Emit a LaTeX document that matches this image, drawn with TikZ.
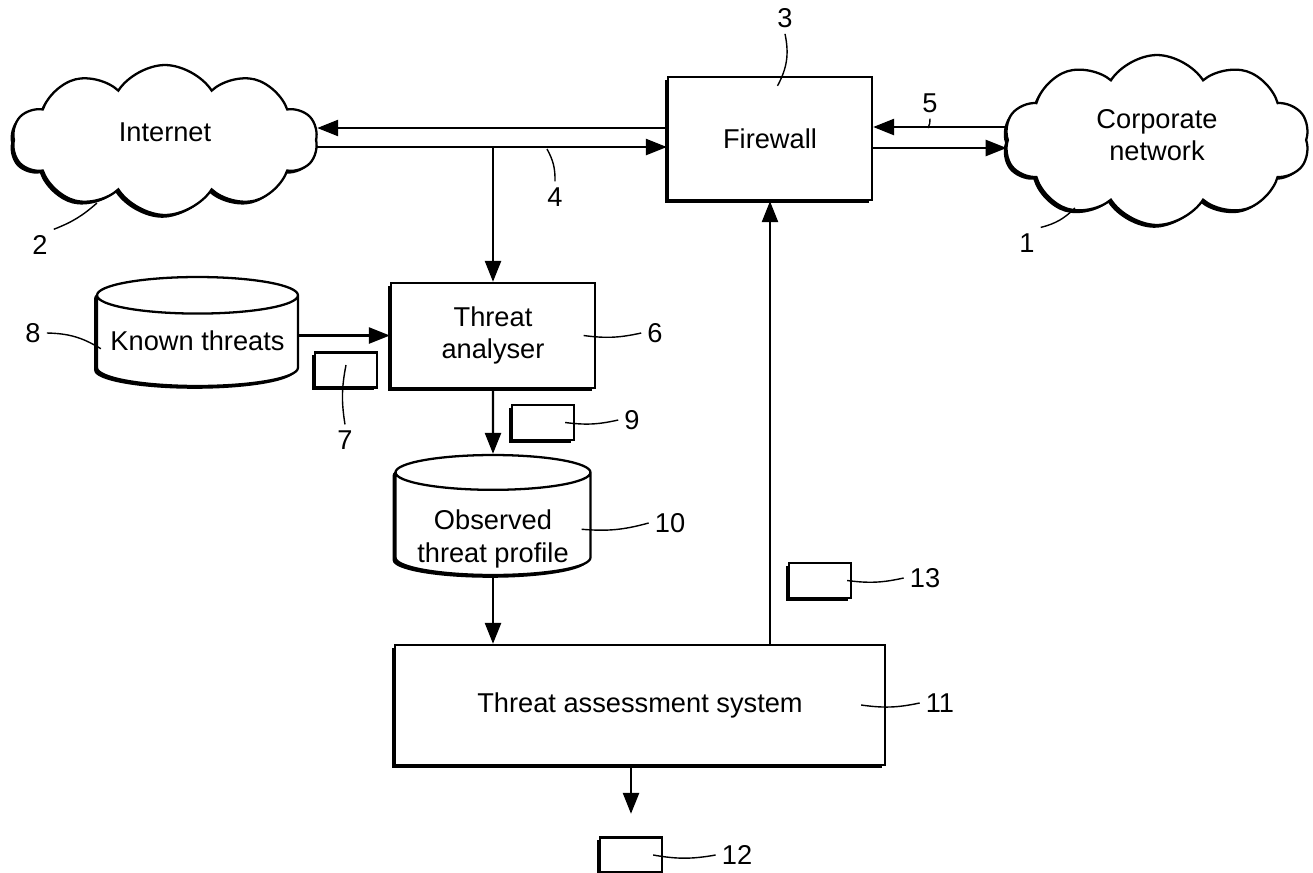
\documentclass[tikz,border=0pt]{standalone}
\usepackage{fontspec}
\setmainfont{Liberation Sans}
\usetikzlibrary{positioning,shapes.symbols,shapes.geometric,shadows,arrows.meta}

\begin{document}
\begin{tikzpicture}[x=0.02cm,y=-0.02cm,
		font=\fontsize{15.5}{18.5}\selectfont,
		box/.style={draw,line width=1.3pt,fill=white,align=center,inner sep=0pt,
			drop shadow={shadow xshift=-1.6pt,shadow yshift=-1.6pt,fill=black,opacity=1}},
		tag/.style={box,minimum width=1.24cm,minimum height=0.7cm},
		net/.style={box,cloud,cloud puffs=10,cloud puff arc=115},
		store/.style={box,cylinder,shape border rotate=90,anchor=shape center},
		arr/.style={line width=1.4pt,-{Triangle[length=0.42cm,width=0.32cm]}},
		lead/.style={line width=0.8pt}]
		\useasboundingbox (0,0) rectangle (1313,873);

		\node[net,minimum width=6.1cm,minimum height=3cm,
			label={[yshift=0.15cm]center:Internet}]					(inet)	at (165,140)	{};
		\node[net,minimum width=6.1cm,minimum height=3.4cm,
			label={[align=center,yshift=0.1cm]center:Corporate\\network}]	(corp)	at (1157,140)	{};
		\node[box,minimum width=4.08cm,minimum height=2.46cm]	(fw)	at (770,138.5)	{Firewall};
		\node[box,minimum width=4.08cm,minimum height=2.1cm]	(ta)	at (493,335.5)	{Threat\\analyser};
		\node[store,aspect=0.21,minimum width=4.02cm,minimum height=2.18cm]	(kt)	at (197.5,331.5)	{Known threats};
		\node[store,aspect=0.23,minimum width=3.9cm,minimum height=2.4cm,inner ysep=-8pt]	(otp)	at (493,515)
			{\rule{0pt}{28pt}Observed\\threat profile};
		\node[box,minimum width=9.8cm,minimum height=2.4cm]		(tas)	at (640,705)	{Threat assessment system};
		\node[tag]	(d7)	at (346,370)	{};
		\node[tag]	(d9)	at (543,422.5)	{};
		\node[tag]	(d13)	at (820,580.5)	{};
		\node[tag]	(d12)	at (631,855)	{};

		\node	(n1)	at (1027,243)	{1};
		\node	(n2)	at (40,245)		{2};
		\node	(n3)	at (785,18)		{3};
		\node	(n4)	at (555,197)	{4};
		\node	(n5)	at (930,103)	{5};
		\node	(n6)	at (655,333)	{6};
		\node	(n7)	at (345,440)	{7};
		\node	(n8)	at (33,333)		{8};
		\node	(n9)	at (632,420)	{9};
		\node	(n10)	at (670,523)	{10};
		\node	(n11)	at (940,703)	{11};
		\node	(n12)	at (737,855)	{12};
		\node	(n13)	at (925,578)	{13};

		\coordinate	(br)	at (493,147);
		\coordinate	(p1)	at (1075,208);
		\coordinate	(p2)	at (97,203);
		\coordinate	(p4)	at (547,149);
		\coordinate	(p5)	at (928,128);

		\draw[arr]	(fw.west |- 0,128)		-- (inet.east |- 0,128);
		\draw[arr]	(inet.east |- 0,147)	-- (fw.west |- 0,147);
		\draw[arr]	(corp.west |- 0,127)	-- (fw.east |- 0,127);
		\draw[arr]	(fw.east |- 0,148)		-- (corp.west |- 0,148);
		\draw[arr]	(br)					-- (br |- ta.north);
		\draw[arr]	(kt.east |- ta)			-- (ta.west);
		\draw[arr]	(ta.south)				-- (otp.north);
		\draw[arr]	(otp.south)				-- (otp.south |- tas.north);
		\draw[arr]	(tas.north -| fw)		-- (fw.south);
		\draw[arr]	(tas.south -| d12)		-- ([yshift=0.45cm]d12.north);

		\draw[lead]	(n1.north east)	to[bend right=15]	(p1);
		\draw[lead]	(n2.north east)	to[bend right=10]	(p2);
		\draw[lead]	(n3.south)		to[bend left=20]	([xshift=0.15cm,yshift=-0.2cm]fw.north);
		\draw[lead]	(n4.north)		to[bend right=15]	(p4);
		\draw[lead]	(n5.south)		to[bend left=15]	(p5);
		\draw[lead]	(n6.west)		to[bend left=10]	([xshift=-0.25cm]ta.east);
		\draw[lead]	(n7.north)		to[bend left=10]	([yshift=0.1cm]d7.center);
		\draw[lead]	(n8.east)		to[bend left=15]	([xshift=0.1cm,yshift=-0.15cm]kt.west);
		\draw[lead]	(n9.west)		to[bend left=10]	([xshift=-0.2cm]d9.east);
		\draw[lead]	(n10.west)		to[bend left=10]	([xshift=-0.2cm,yshift=-0.1cm]otp.east);
		\draw[lead]	(n11.west)		to[bend left=10]	([xshift=-0.5cm]tas.east);
		\draw[lead]	(n12.west)		to[bend left=10]	([xshift=-0.2cm]d12.east);
		\draw[lead]	(n13.west)		to[bend left=10]	([xshift=-0.1cm]d13.east);
	\end{tikzpicture}
\end{document}
